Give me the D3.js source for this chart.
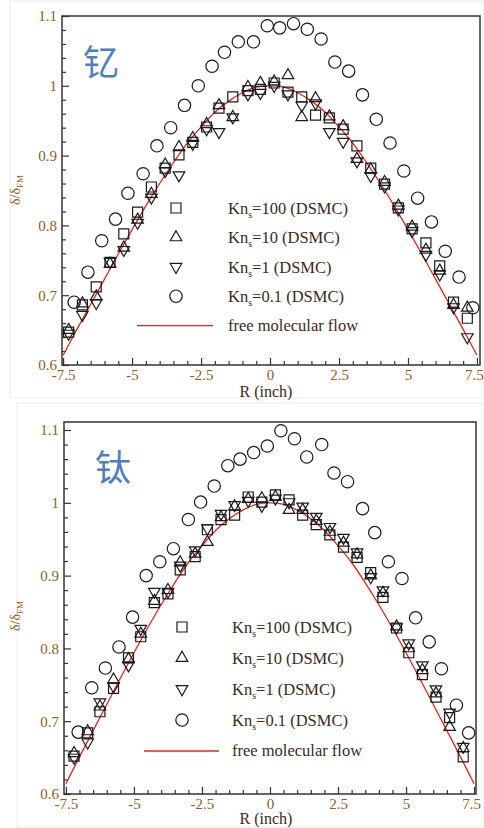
<!DOCTYPE html>
<html>
<head>
<meta charset="utf-8">
<script src="https://cdn.jsdelivr.net/npm/d3@7"></script>
<style>
  body { margin: 0; background: #fff; }
  svg { display: block; }
</style>
</head>
<body>
<svg id="chart"></svg>
<script>
// axis ticks
const xTicks = [-7.5, -5, -2.5, 0, 2.5, 5, 7.5];
const yTicks = [0.6, 0.7, 0.8, 0.9, 1, 1.1];
const legendTail = ["=100 (DSMC)", "=10 (DSMC)", "=1 (DSMC)", "=0.1 (DSMC)"];
const freeLabel = "free molecular flow";

// free molecular flow curve
const freeR = [-7.5,-7,-6.5,-6,-5.5,-5,-4.5,-4,-3.5,-3,-2.5,-2,-1.5,-1,-0.5,0,
               0.5,1,1.5,2,2.5,3,3.5,4,4.5,5,5.5,6,6.5,7,7.5];
const freeD = [0.614,0.651,0.687,0.723,0.759,0.794,0.828,0.860,0.890,0.918,0.941,0.962,0.978,0.990,0.998,1.000,
               0.998,0.990,0.978,0.962,0.941,0.918,0.890,0.860,0.828,0.794,0.759,0.723,0.687,0.651,0.614];

// 钇 (top)
const ytR = [-7.3,-6.8,-6.3,-5.8,-5.3,-4.8,-4.3,-3.8,-3.3,-2.8,-2.3,-1.85,-1.35,-0.8,-0.35,
             0.15,0.65,1.15,1.65,2.15,2.65,3.15,3.65,4.15,4.65,5.15,5.65,6.15,6.65,7.15];
const ytKn100 = [0.647,0.686,0.712,0.747,0.788,0.819,0.855,0.882,0.901,0.919,0.941,0.968,0.984,0.993,0.995,
                 1.004,0.991,0.984,0.958,0.954,0.938,0.914,0.882,0.859,0.825,0.795,0.775,0.742,0.690,0.667];
const ytKn10 = [0.650,0.688,0.698,0.745,0.768,0.808,0.845,0.887,0.912,0.925,0.945,0.972,0.955,0.998,1.004,
                1.006,1.015,0.955,0.982,0.956,0.942,0.895,0.880,0.862,0.828,0.798,0.765,0.735,0.686,0.682];
const ytKn1 = [0.645,0.672,0.689,0.748,0.765,0.804,0.840,0.878,0.872,0.917,0.938,0.934,0.955,0.988,0.990,
               1.000,0.988,0.972,0.975,0.934,0.920,0.892,0.871,0.856,0.823,0.792,0.758,0.730,0.683,0.640];
const ytR01 = [-7.1,-6.6,-6.1,-5.6,-5.15,-4.6,-4.1,-3.6,-3.1,-2.6,-2.1,-1.65,-1.15,-0.6,-0.1,
               0.35,0.85,1.35,1.85,2.35,2.85,3.35,3.85,4.35,4.85,5.35,5.85,6.35,6.85,7.35];
const ytKn01 = [0.690,0.733,0.778,0.809,0.846,0.874,0.914,0.940,0.972,1.000,1.028,1.048,1.063,1.063,1.086,
                1.083,1.089,1.081,1.067,1.034,1.021,0.987,0.952,0.918,0.878,0.839,0.805,0.763,0.726,0.682];

// 钛 (bottom)
const tiR = [-7.2,-6.7,-6.25,-5.75,-5.2,-4.75,-4.25,-3.75,-3.3,-2.75,-2.3,-1.8,-1.3,-0.8,-0.3,
             0.2,0.7,1.2,1.7,2.2,2.7,3.2,3.7,4.15,4.65,5.1,5.6,6.1,6.6,7.1];
const tiKn100 = [0.652,0.684,0.713,0.745,0.787,0.816,0.863,0.875,0.908,0.926,0.963,0.977,0.983,1.008,1.001,
                 1.011,1.004,0.983,0.970,0.956,0.939,0.925,0.904,0.870,0.828,0.794,0.764,0.733,0.705,0.651];
const tiKn10 = [0.656,0.686,0.720,0.757,0.785,0.820,0.865,0.880,0.918,0.930,0.946,0.980,0.995,1.005,1.006,
                1.008,0.990,0.990,0.975,0.960,0.945,0.929,0.900,0.876,0.830,0.800,0.770,0.738,0.692,0.663];
const tiKn1 = [0.650,0.671,0.726,0.748,0.777,0.827,0.878,0.878,0.914,0.935,0.965,0.985,0.997,1.003,0.996,
               1.006,1.001,0.995,0.981,0.967,0.952,0.932,0.898,0.880,0.829,0.807,0.777,0.744,0.712,0.665];
const tiR01 = [-7.05,-6.55,-6.05,-5.55,-5.05,-4.55,-4.05,-3.55,-3.0,-2.55,-2.05,-1.55,-1.1,-0.6,-0.1,
               0.4,0.9,1.35,1.9,2.35,2.85,3.4,3.85,4.35,4.85,5.35,5.85,6.3,6.85,7.3];
const tiKn01 = [0.685,0.746,0.773,0.802,0.843,0.900,0.919,0.937,0.977,1.001,1.023,1.051,1.060,1.069,1.078,
                1.099,1.088,1.063,1.080,1.041,1.029,0.992,0.959,0.919,0.896,0.842,0.809,0.772,0.722,0.684];

const W = 484, H = 828;
const serif = '"Liberation Serif", "Times New Roman", serif';
const tickColor = "#8c5e24";
const textColor = "#3b2a20";
const markColor = "#1a1a1a";

const svg = d3.select("#chart").attr("width", W).attr("height", H);

const symSquare = d3.symbol().type(d3.symbolSquare).size(100)();
const symTri = d3.symbol().type(d3.symbolTriangle).size(58)();
const symCircle = d3.symbol().type(d3.symbolCircle).size(120)();
const markers = [
  { path: symSquare, rot: 0 },
  { path: symTri, rot: 0 },
  { path: symTri, rot: 180 },
  { path: symCircle, rot: 0 }
];

function panel(opt) {
  const g = svg.append("g");

  // faint panel frame
  g.append("rect")
    .attr("x", opt.frame[0]).attr("y", opt.frame[1])
    .attr("width", opt.frame[2]).attr("height", opt.frame[3])
    .attr("fill", "none").attr("stroke", "#ececec");

  const x = d3.scaleLinear().domain(opt.xDomain).range([opt.left, opt.right]);
  const y = d3.scaleLinear().domain(opt.yDomain).range([opt.bottom, opt.top]);

  const minorY = d3.range(0.62, 1.1, 0.02).filter(v => Math.abs(v * 10 - Math.round(v * 10)) > 0.01);
  const minorX = d3.range(-7, 7.51, 0.5).filter(v => Math.abs(v / 2.5 - Math.round(v / 2.5)) > 0.01);

  const styleAxis = a => {
    a.attr("font-family", null);
    a.select(".domain").remove();
    a.selectAll("line").attr("stroke", "#333").attr("stroke-width", 1.2);
    a.selectAll("text")
      .style("font-family", serif).attr("font-size", 15)
      .attr("fill", tickColor);
  };

  g.append("g").attr("transform", `translate(${opt.left},0)`)
    .call(d3.axisLeft(y).tickValues(yTicks).tickSize(-7).tickPadding(5).tickFormat(d => String(d)))
    .call(styleAxis);
  g.append("g").attr("transform", `translate(${opt.left},0)`)
    .call(d3.axisLeft(y).tickValues(minorY).tickSize(-4).tickFormat(""))
    .call(styleAxis);
  g.append("g").attr("transform", `translate(0,${opt.bottom})`)
    .call(d3.axisBottom(x).tickValues(xTicks).tickSize(-7).tickPadding(4).tickFormat(d => String(d)))
    .call(styleAxis)
    .call(a => a.selectAll(".tick text").filter(d => d === 7.5).attr("dx", -3));
  g.append("g").attr("transform", `translate(0,${opt.bottom})`)
    .call(d3.axisBottom(x).tickValues(minorX).tickSize(-4).tickFormat(""))
    .call(styleAxis);

  // plot border
  g.append("rect")
    .attr("x", opt.left).attr("y", opt.top)
    .attr("width", opt.right - opt.left).attr("height", opt.bottom - opt.top)
    .attr("fill", "none").attr("stroke", "#333").attr("stroke-width", 1.5);

  // element label
  g.append("text")
    .attr("x", opt.tag[0]).attr("y", opt.tag[1])
    .style("font-family", '"Noto Sans CJK SC", sans-serif')
    .attr("font-size", 36).attr("fill", "#4f7fc0")
    .text(opt.name);

  // axis titles
  const yt = g.append("text")
    .attr("transform", `translate(${opt.yTitle[0]},${opt.yTitle[1]}) rotate(-90)`)
    .attr("text-anchor", "middle")
    .style("font-family", serif)
    .attr("font-size", 14).attr("fill", tickColor);
  yt.append("tspan").text("δ/δ");
  yt.append("tspan").attr("font-size", 9).attr("dy", 3).text("FM");

  g.append("text")
    .attr("x", opt.xTitle[0]).attr("y", opt.xTitle[1])
    .attr("text-anchor", "middle")
    .style("font-family", serif)
    .attr("font-size", 16).attr("fill", textColor)
    .text("R (inch)");

  // free molecular flow
  const line = d3.line()
    .x((d, i) => x(freeR[i]))
    .y(d => y(d))
    .curve(d3.curveCatmullRom);
  g.append("path")
    .datum(freeD)
    .attr("fill", "none")
    .attr("stroke", "#e3241c")
    .attr("stroke-width", 1.3)
    .attr("d", line);

  // DSMC points
  opt.series.forEach((s, k) => {
    g.append("g").selectAll("path")
      .data(s.v)
      .join("path")
      .attr("d", markers[k].path)
      .attr("transform", (d, i) => `translate(${x(s.r[i])},${y(d)}) rotate(${markers[k].rot})`)
      .attr("fill", "none")
      .attr("stroke", markColor)
      .attr("stroke-width", 1.2);
  });

  // legend
  const lg = g.append("g");
  legendTail.forEach((t, k) => {
    const ly = opt.legY + k * opt.legStep;
    lg.append("path")
      .attr("d", markers[k].path)
      .attr("transform", `translate(${opt.legMark},${ly}) rotate(${markers[k].rot})`)
      .attr("fill", "none").attr("stroke", markColor).attr("stroke-width", 1.2);
    const tx = lg.append("text")
      .attr("x", opt.legText).attr("y", ly + 6)
      .style("font-family", serif)
      .attr("font-size", 16.5).attr("fill", textColor);
    tx.append("tspan").text("Kn");
    tx.append("tspan").attr("font-size", 10).attr("dy", 4).text("s");
    tx.append("tspan").attr("dy", -4).text(t);
  });
  const fy = opt.legY + 4 * opt.legStep;
  lg.append("line")
    .attr("x1", opt.legLine[0]).attr("x2", opt.legLine[1])
    .attr("y1", fy).attr("y2", fy)
    .attr("stroke", "#e3241c").attr("stroke-width", 1.3);
  lg.append("text")
    .attr("x", opt.legText).attr("y", fy + 5)
    .style("font-family", serif)
    .attr("font-size", 16.5).attr("fill", textColor)
    .text(freeLabel);
}

panel({
  name: "钇",
  frame: [10, 1, 473, 397],
  left: 62, right: 480, top: 16, bottom: 365,
  xDomain: [-7.54, 7.61], yDomain: [0.6, 1.1],
  tag: [83, 76], yTitle: [20, 190], xTitle: [266, 397],
  legY: 208, legStep: 29.4, legMark: 176, legText: 228, legLine: [137, 213],
  series: [
    { r: ytR, v: ytKn100 },
    { r: ytR, v: ytKn10 },
    { r: ytR, v: ytKn1 },
    { r: ytR01, v: ytKn01 }
  ]
});

panel({
  name: "钛",
  frame: [17, 403, 466, 424],
  left: 64, right: 476, top: 422, bottom: 794,
  xDomain: [-7.57, 7.57], yDomain: [0.6, 1.111],
  tag: [95, 481], yTitle: [20, 616], xTitle: [266, 824],
  legY: 627, legStep: 31, legMark: 182, legText: 232, legLine: [144, 219],
  series: [
    { r: tiR, v: tiKn100 },
    { r: tiR, v: tiKn10 },
    { r: tiR, v: tiKn1 },
    { r: tiR01, v: tiKn01 }
  ]
});
</script>
</body>
</html>
